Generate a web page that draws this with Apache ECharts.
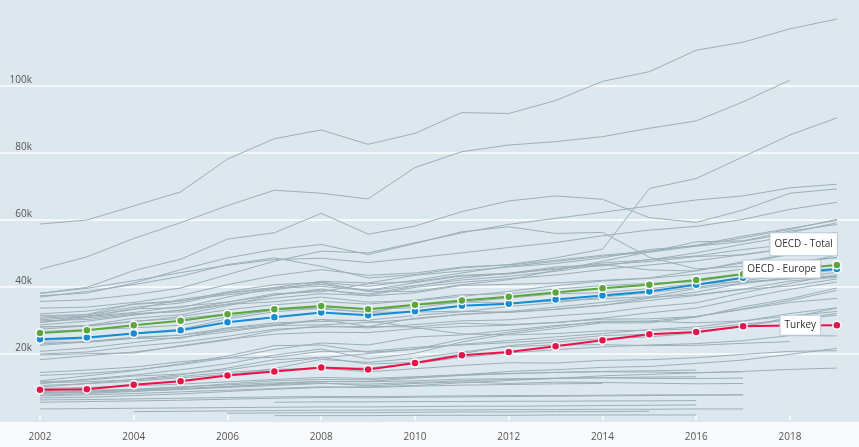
<!DOCTYPE html>
<html>
<head>
<meta charset="utf-8">
<script src="https://cdn.jsdelivr.net/npm/echarts@6/dist/echarts.min.js"></script>
<style>html,body{margin:0;padding:0;background:#f7f9fa}#c{width:859px;height:447px}</style>
</head>
<body>
<div id="c"></div>
<script>
// ---- data (values in thousands) ----
const years = [2002,2003,2004,2005,2006,2007,2008,2009,2010,2011,2012,2013,2014,2015,2016,2017,2018,2019];
const xTickYears = [2002,2004,2006,2008,2010,2012,2014,2016,2018];
const yTickValues = [20,40,60,80,100];

const oecdTotal  = [26.1,26.9,28.4,29.7,31.7,33.2,34.1,33.2,34.5,35.8,36.9,38.2,39.4,40.5,41.9,43.7,45.1,46.4];
const oecdEurope = [24.2,24.7,25.9,26.9,29.3,30.8,32.2,31.4,32.6,34.2,34.8,36.1,37.3,38.5,40.5,42.6,44.1,45.2];
const turkey     = [9.1,9.3,10.6,11.7,13.4,14.6,15.8,15.2,17.1,19.4,20.4,22.1,23.9,25.7,26.4,28.1,28.3,28.4];

const luxembourg  = [58.6,59.8,64.0,68.2,78.0,84.1,86.7,82.4,85.7,91.9,91.6,95.5,101.2,104.1,110.5,112.9,116.9,119.8];
const singapore   = [45.1,48.8,54.3,59.0,64.1,68.7,67.8,66.1,75.5,80.2,82.2,83.2,84.7,87.2,89.4,95.1,101.6,null];
const ireland     = [36.8,38.5,40.5,43.0,46.5,48.5,46.0,42.5,43.5,45.5,46.5,48.5,51.1,69.2,72.2,78.7,85.2,90.3];
const norway      = [37.9,39.7,44.7,48.1,54.1,56.0,61.8,55.6,58.0,62.3,65.5,67.0,66.0,60.5,59.1,62.8,67.8,69.1];
const switzerland = [35.5,36.0,37.5,39.5,43.5,47.5,50.5,50.0,53.0,56.0,58.5,60.3,62.1,64.0,65.8,67.0,69.4,70.5];
const kuwait      = [37.2,38.0,41.0,45.0,48.5,51.0,52.5,49.5,52.8,56.3,57.8,55.8,56.1,48.7,45.2,46.0,47.5,48.5];
const usa         = [37.9,39.4,41.7,44.1,46.3,48.0,48.4,47.1,48.5,50.0,51.6,53.1,55.1,56.8,57.9,60.0,63.0,65.1];
const netherlands = [33.5,33.8,35.2,37.3,40.5,43.2,45.0,43.3,44.0,45.8,46.4,47.8,49.3,50.5,52.3,55.0,57.3,59.7];
const denmark     = [31.3,31.5,33.8,35.0,38.0,39.7,41.5,41.0,43.3,44.6,45.8,46.8,48.5,51.0,52.0,54.5,57.0,60.0];
const austria     = [31.8,32.6,34.6,35.5,38.4,40.5,41.2,40.0,41.8,44.0,46.0,47.4,49.0,50.2,52.0,53.4,56.0,59.0];
const iceland     = [30.8,31.6,34.8,35.7,37.5,38.9,41.1,38.5,38.5,40.5,42.0,44.8,47.5,50.3,53.3,53.6,56.5,58.5];
const germany     = [28.5,29.6,31.4,32.9,35.3,37.4,38.9,37.7,40.1,42.5,43.9,45.1,47.0,47.9,50.0,52.6,55.0,56.0];
const sweden      = [30.0,31.0,33.3,33.6,36.8,39.5,40.6,38.8,41.1,43.1,43.7,45.4,46.1,48.0,49.1,51.0,52.5,54.5];
const belgium     = [29.7,30.1,31.6,32.9,34.7,36.5,37.8,37.3,39.7,41.2,42.3,43.4,45.0,46.4,47.6,49.5,51.5,54.5];
const australia   = [29.2,31.0,32.2,34.0,35.3,37.8,38.4,40.8,41.4,43.3,43.9,45.8,46.5,47.4,48.9,49.4,51.4,52.5];
const canada      = [30.5,31.1,33.1,36.1,38.0,39.4,40.0,38.8,40.2,41.9,43.0,44.5,46.5,44.9,44.6,47.4,49.6,51.3];
const finland     = [27.8,28.3,30.5,31.5,34.2,37.4,39.2,37.1,38.1,40.3,40.6,41.0,41.8,42.5,44.7,47.0,49.5,50.2];
const uk          = [29.2,30.6,31.9,32.4,34.6,35.4,36.8,35.3,35.7,37.0,38.5,40.2,41.6,42.4,43.6,45.1,46.8,48.7];
const france      = [28.0,28.1,29.4,31.0,33.0,34.5,35.5,34.7,35.9,37.5,37.8,39.2,40.2,40.9,41.4,43.6,46.2,49.4];
const japan       = [27.2,28.2,29.6,30.4,31.8,33.3,33.3,32.2,34.5,35.2,36.5,37.8,38.1,39.3,40.7,41.4,42.2,42.9];
const italy       = [26.5,27.1,27.6,28.4,30.9,32.9,33.9,33.2,33.6,35.4,35.0,35.6,36.3,36.9,39.4,40.9,42.4,44.2];
const korea       = [19.8,20.4,22.1,23.3,25.1,27.2,27.9,28.0,30.5,31.6,32.3,33.1,34.3,36.5,38.3,40.9,42.7,43.1];
const newZealand  = [22.8,23.5,24.8,25.4,27.6,29.1,29.5,29.9,31.3,32.4,34.0,35.1,36.8,38.1,39.7,41.7,43.3,44.9];
const israel      = [23.4,23.3,24.5,25.5,26.9,28.3,28.5,29.2,30.2,31.7,32.5,33.8,35.2,36.7,37.5,39.2,41.6,42.7];
const spain       = [23.9,24.4,26.0,27.2,30.3,32.4,33.5,32.3,32.3,32.6,32.2,33.2,34.4,35.8,37.3,39.1,40.1,42.2];
const czechia     = [18.1,19.3,20.4,22.1,24.0,26.8,28.2,27.6,28.6,29.7,30.0,31.2,32.1,33.9,35.1,38.1,40.9,43.5];
const slovenia    = [20.6,21.6,23.2,24.8,26.4,28.3,30.1,28.0,27.9,29.0,28.6,29.2,30.5,32.1,33.5,36.4,39.1,41.3];
const portugal    = [19.5,19.9,20.1,22.3,24.2,25.7,26.3,26.2,27.4,28.0,28.4,29.2,30.2,30.3,31.0,33.1,35.2,36.4];
const greece      = [22.4,23.4,24.5,24.5,27.4,28.6,30.1,29.7,27.7,25.8,25.5,25.9,26.7,26.9,27.3,28.7,30.0,31.4];
const estonia     = [11.8,13.3,14.8,16.9,19.2,22.3,22.5,20.3,21.2,24.2,26.3,28.0,29.6,29.6,31.0,33.3,35.8,38.8];
const lithuania   = [10.9,12.3,13.5,15.1,16.9,19.5,21.3,18.3,20.0,23.4,25.8,27.4,29.1,29.1,30.8,33.9,36.3,39.5];
const poland      = [11.5,12.0,13.2,13.8,15.1,17.0,18.7,19.9,21.3,22.7,23.8,24.9,25.9,27.1,27.9,29.6,31.9,33.6];
const hungary     = [14.3,15.0,15.9,17.5,18.6,18.8,20.6,20.6,21.8,22.5,23.2,24.0,25.3,25.7,26.2,28.0,30.7,33.5];
const slovakia    = [13.4,14.0,15.0,16.6,18.6,21.2,23.1,22.5,24.9,25.5,26.9,28.3,29.3,29.6,29.1,29.7,31.2,32.5];
const latvia      = [9.9,11.0,12.2,13.6,15.6,18.1,18.8,16.8,17.3,19.9,22.3,23.4,24.4,24.9,26.1,28.1,30.2,31.9];
const chile       = [10.4,10.9,11.7,12.7,13.7,14.9,15.8,15.6,17.0,18.8,20.1,21.1,21.9,22.5,22.9,23.8,25.3,25.2];
const mexico      = [11.2,11.5,12.1,13.1,14.3,15.2,15.5,14.5,15.4,16.4,17.2,17.1,17.9,18.1,18.7,19.7,20.6,20.8];
const costaRica   = [8.3,8.7,9.2,9.8,10.9,11.8,12.2,12.1,12.9,13.6,14.6,15.1,15.8,16.1,17.0,18.0,19.7,21.5];
const colombia    = [6.7,6.9,7.4,7.9,8.6,9.3,9.8,10.0,10.4,11.2,11.9,12.5,13.3,13.7,14.2,14.6,15.2,15.6];
const russia      = [8.7,9.6,10.5,11.8,13.5,15.5,18.2,17.3,18.5,20.4,22.0,22.5,22.6,22.3,22.4,23.0,23.5,null];
const brazil      = [8.2,8.4,9.0,9.5,10.1,10.9,11.6,11.6,12.6,13.4,13.9,14.3,14.5,14.4,14.2,14.5,null,null];
const southAfrica = [8.6,8.9,9.3,10.0,10.6,11.2,11.6,11.5,11.8,12.3,12.4,12.6,12.7,12.5,12.5,12.6,null,null];
const argentina   = [7.5,8.0,8.6,9.3,10.1,10.7,11.2,10.3,11.0,11.5,11.0,11.4,11.3,11.1,10.9,11.0,null,null];
const india       = [5.4,5.6,5.8,6.0,6.3,6.6,6.8,6.7,6.9,7.0,7.1,7.2,7.3,7.4,7.5,7.6,null,null];
const bulgaria    = [9.5,9.8,10.3,10.8,11.5,12.2,12.8,12.5,13.0,13.6,14.0,14.3,14.6,14.8,15.0,null,null,null];
const romania     = [8.0,8.3,8.8,9.2,9.8,10.4,11.0,10.8,11.3,11.8,12.2,12.5,12.7,12.9,13.0,null,null,null];
const peru        = [7.3,7.6,8.0,8.5,9.0,9.5,10.0,9.8,10.2,10.5,10.7,10.9,11.0,null,null,null,null,null];
const indonesia   = [null,null,null,null,null,5.4,5.5,5.5,5.6,5.6,5.7,5.7,5.8,5.8,5.9,null,null,null];
const philippines = [null,null,2.6,2.7,2.8,2.9,3.0,3.0,3.1,3.1,3.2,3.2,3.3,3.3,3.4,3.4,null,null];
const vietnam     = [null,null,null,null,2.1,2.2,2.3,2.3,2.4,2.5,2.5,2.6,2.6,2.7,null,null,null,null];
const nigeria     = [null,null,null,null,null,1.4,1.4,1.4,1.5,1.5,1.5,1.6,1.6,1.6,1.6,null,null,null];
const egypt       = [3.4,3.5,3.6,3.7,3.8,3.9,4.0,4.0,4.1,4.2,4.2,4.3,4.4,4.5,4.6,null,null,null];
const morocco     = [6.1,6.2,6.4,6.6,6.8,7.0,7.1,7.1,7.2,7.3,7.4,7.4,7.5,7.6,7.6,7.6,null,null];

const greyList = [
  ['Luxembourg',luxembourg],['Singapore',singapore],['Ireland',ireland],['Norway',norway],
  ['Switzerland',switzerland],['Kuwait',kuwait],['United States',usa],['Netherlands',netherlands],
  ['Denmark',denmark],['Austria',austria],['Iceland',iceland],['Germany',germany],['Sweden',sweden],
  ['Belgium',belgium],['Australia',australia],['Canada',canada],['Finland',finland],['United Kingdom',uk],
  ['France',france],['Japan',japan],['Italy',italy],['Korea',korea],['New Zealand',newZealand],
  ['Israel',israel],['Spain',spain],['Czech Republic',czechia],['Slovenia',slovenia],['Portugal',portugal],
  ['Greece',greece],['Estonia',estonia],['Lithuania',lithuania],['Poland',poland],['Hungary',hungary],
  ['Slovak Republic',slovakia],['Latvia',latvia],['Chile',chile],['Mexico',mexico],['Costa Rica',costaRica],
  ['Colombia',colombia],['Russia',russia],['Brazil',brazil],['South Africa',southAfrica],['Argentina',argentina],
  ['India',india],['Bulgaria',bulgaria],['Romania',romania],['Peru',peru],['Indonesia',indonesia],
  ['Philippines',philippines],['Viet Nam',vietnam],['Nigeria',nigeria],['Egypt',egypt],['Morocco',morocco]
];

// ---- chart ----
const pairs = arr => years.map((y, i) => [y, arr[i]]).filter(p => p[1] != null);
const FONT = '"Open Sans", "Noto Sans", sans-serif';

const series = greyList.map(([name, arr]) => ({
  name, type: 'line', data: pairs(arr), showSymbol: false, silent: true, z: 1,
  lineStyle: { color: '#9cafb9', width: 1 }
}));

function hiSeries(name, arr, color, labelOpt) {
  const d = pairs(arr).map(p => ({ value: p }));
  d[d.length - 1].label = Object.assign({
    show: true, formatter: name, color: '#333', fontFamily: FONT, fontSize: 10,
    backgroundColor: '#fff', borderColor: '#b7cbd6', borderWidth: 1
  }, labelOpt);
  return {
    name, type: 'line', data: d, z: 5, symbol: 'circle', symbolSize: 8,
    itemStyle: { color, borderColor: '#fff', borderWidth: 1.5 },
    lineStyle: { color, width: 2 }, label: { show: false }
  };
}

series.push(hiSeries('Turkey', turkey, '#ee1148', { position: 'left', distance: 12, padding: [5, 4, 4, 4] }));
series.push(hiSeries('OECD - Europe', oecdEurope, '#168cd6', { position: 'left', distance: 12, padding: [4, 4, 3, 4] }));
series.push(hiSeries('OECD - Total', oecdTotal, '#5aa83a', { position: 'top', align: 'right', distance: 5, padding: [6, 4, 6, 4] }));

const chart = echarts.init(document.getElementById('c'), null, { renderer: 'canvas' });
chart.setOption({
  animation: false,
  backgroundColor: '#f7f9fa',
  grid: { left: 0, right: 0, top: 0, bottom: 25, show: true, backgroundColor: '#dce8ee', borderWidth: 0 },
  xAxis: {
    type: 'value', min: 2001.147, max: 2019.472,
    axisLine: { show: false }, splitLine: { show: false },
    axisTick: { show: true, inside: true, length: 5, lineStyle: { color: '#fff', width: 1.5 }, customValues: xTickYears },
    axisLabel: { customValues: xTickYears, color: '#555', fontFamily: FONT, fontSize: 10, margin: 10, formatter: v => String(v) }
  },
  yAxis: {
    type: 'value', min: -0.5, max: 125.5,
    axisLine: { show: false },
    axisTick: { show: false, customValues: yTickValues },
    splitLine: { show: true, lineStyle: { color: '#ffffff', width: 1.5 } },
    axisLabel: { customValues: yTickValues, inside: true, align: 'right', margin: 32, verticalAlign: 'bottom',
      color: '#555', fontFamily: FONT, fontSize: 10, formatter: v => v + 'k' }
  },
  series
});
</script>
</body>
</html>
